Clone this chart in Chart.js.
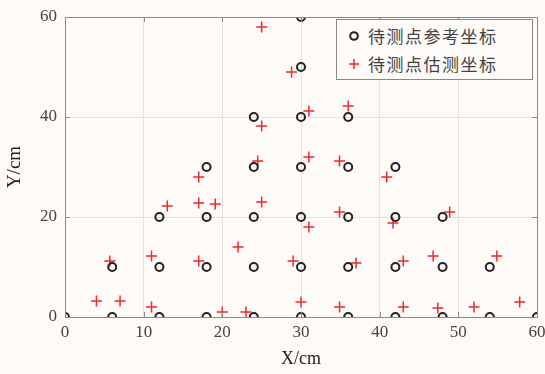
<!DOCTYPE html>
<html>
<head>
<meta charset="utf-8">
<script src="https://cdn.jsdelivr.net/npm/chart.js@4/dist/chart.umd.min.js"></script>
<style>
html, body { margin: 0; padding: 0; background: #fdfaf7; }
#wrap { position: relative; width: 545px; height: 374px; }
#legend {
    position: absolute; left: 336px; top: 19px; width: 197px; height: 61px;
    border: 1px solid #888; background: #fdfaf7; box-sizing: border-box;
    font-family: "Noto Sans CJK SC", sans-serif; font-size: 17px; color: #444;
}
.row { position: absolute; left: 0; height: 26px; line-height: 26px; }
.row span.txt { position: absolute; left: 31px; white-space: nowrap; letter-spacing: 1.5px; }
.mark { position: absolute; left: 12px; top: 8px; width: 10px; height: 10px; }
</style>
</head>
<body>
<div id="wrap">
<canvas id="pos-chart" width="545" height="374"></canvas>
<div id="legend">
  <div class="row" style="top:3px"><canvas class="mark" id="m1" width="10" height="10"></canvas><span class="txt">待测点参考坐标</span></div>
  <div class="row" style="top:31px"><canvas class="mark" id="m2" width="10" height="10"></canvas><span class="txt">待测点估测坐标</span></div>
</div>
</div>
<script>
// reference points (grid of test positions)
var refX = [0, 6, 12, 18, 24, 30, 36, 42, 48, 54, 60,
            6, 12, 18, 24, 30, 36, 42, 48, 54,
            12, 18, 24, 30, 36, 42, 48,
            18, 24, 30, 36, 42,
            24, 30, 36,
            30, 30];
var refY = [0, 0, 0, 0, 0, 0, 0, 0, 0, 0, 0,
            10, 10, 10, 10, 10, 10, 10, 10, 10,
            20, 20, 20, 20, 20, 20, 20,
            30, 30, 30, 30, 30,
            40, 40, 40,
            50, 60];
// estimated points
var estX = [4, 7, 5.7, 11, 11, 13, 17, 17, 19.1, 17, 20, 22, 23, 25, 24.5, 25, 25, 28.8, 31,
            36, 31, 34.9, 40.9, 31, 34.9, 41.7, 48.9, 29, 37, 43, 46.8, 54.9, 30, 34.9, 43, 47.4, 52, 57.8];
var estY = [3.2, 3.2, 11.2, 12.2, 2, 22.2, 28, 22.8, 22.6, 11.2, 1, 14, 1, 23, 31.2, 38.2, 58, 49, 41.2,
            42.2, 32, 31.2, 28, 18, 21, 18.8, 21, 11.2, 10.8, 11.2, 12.2, 12.2, 3, 2, 2, 1.8, 2, 3];
var xTicks = [0, 10, 20, 30, 40, 50, 60];
var yTicks = [0, 20, 40, 60];

function toPoints(xs, ys) {
    var out = [];
    for (var i = 0; i < xs.length; i++) out.push({x: xs[i], y: ys[i]});
    return out;
}

var tickFont = {family: "'Liberation Serif', serif", size: 17};
var frame = {
    id: 'frame',
    afterDraw: function(chart) {
        var c = chart.ctx, a = chart.chartArea;
        c.save();
        c.strokeStyle = '#8a8a8a';
        c.lineWidth = 1;
        c.strokeRect(a.left + 0.5, a.top + 0.5, a.right - a.left, a.bottom - a.top);
        // small inward ticks on all four sides
        var xs = chart.scales.x, ys = chart.scales.y;
        c.beginPath();
        xTicks.forEach(function(t) {
            var p = Math.round(xs.getPixelForValue(t)) + 0.5;
            c.moveTo(p, a.top); c.lineTo(p, a.top + 5);
            c.moveTo(p, a.bottom); c.lineTo(p, a.bottom - 5);
        });
        yTicks.forEach(function(t) {
            var p = Math.round(ys.getPixelForValue(t)) + 0.5;
            c.moveTo(a.right, p); c.lineTo(a.right - 5, p);
            c.moveTo(a.left, p); c.lineTo(a.left + 5, p);
        });
        c.stroke();
        c.restore();
    }
};

var chart = new Chart(document.getElementById('pos-chart').getContext('2d'), {
    type: 'scatter',
    data: {
        datasets: [{
            label: '待测点参考坐标',
            data: toPoints(refX, refY),
            pointStyle: 'circle',
            pointRadius: 4,
            pointBorderWidth: 2,
            borderColor: '#222',
            backgroundColor: 'rgba(0,0,0,0)'
        }, {
            label: '待测点估测坐标',
            data: toPoints(estX, estY),
            pointStyle: 'cross',
            pointRadius: 5.5,
            pointBorderWidth: 1.5,
            borderColor: '#ee2a2a',
            backgroundColor: '#ee2a2a'
        }]
    },
    options: {
        responsive: false,
        animation: false,
        layout: {padding: {top: 17, right: 8, left: 0, bottom: 0}},
        plugins: {legend: {display: false}, tooltip: {enabled: false}},
        scales: {
            x: {
                type: 'linear', min: 0, max: 60,
                afterBuildTicks: function(s) { s.ticks = xTicks.map(function(v) { return {value: v}; }); },
                afterFit: function(s) { s.height = 57; s.paddingLeft = 0; s.paddingRight = 0; },
                grid: {color: '#e4e0dc', drawTicks: false},
                border: {display: false},
                ticks: {font: tickFont, color: '#444', padding: 5, maxRotation: 0},
                title: {display: true, text: 'X/cm', font: {family: "'Liberation Serif', serif", size: 18}, color: '#222', padding: {top: 5}}
            },
            y: {
                type: 'linear', min: 0, max: 60,
                afterBuildTicks: function(s) { s.ticks = yTicks.map(function(v) { return {value: v}; }); },
                afterFit: function(s) { s.width = 65; s.paddingTop = 0; s.paddingBottom = 0; },
                grid: {color: '#e4e0dc', drawTicks: false},
                border: {display: false},
                ticks: {font: tickFont, color: '#444', padding: 8},
                title: {display: true, text: 'Y/cm', font: {family: "'Liberation Serif', serif", size: 19}, color: '#222', padding: {bottom: 2}}
            }
        }
    },
    plugins: [frame]
});

// legend markers
var m1 = document.getElementById('m1').getContext('2d');
m1.strokeStyle = '#222'; m1.lineWidth = 2;
m1.beginPath(); m1.arc(5, 5, 3.8, 0, Math.PI * 2); m1.stroke();
var m2 = document.getElementById('m2').getContext('2d');
m2.strokeStyle = '#ee2a2a'; m2.lineWidth = 1.5;
m2.beginPath(); m2.moveTo(0, 5); m2.lineTo(10, 5); m2.moveTo(5, 0); m2.lineTo(5, 10); m2.stroke();
</script>
</body>
</html>
